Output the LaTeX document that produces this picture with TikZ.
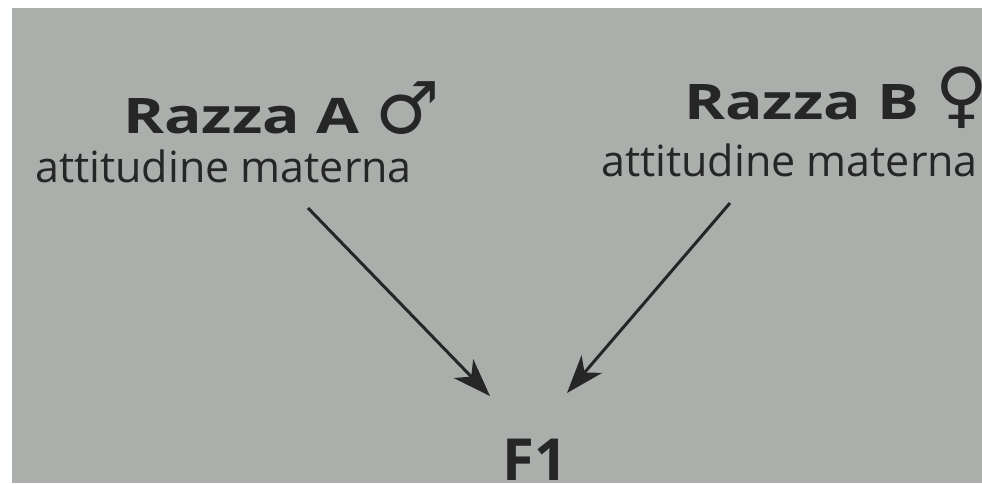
\documentclass[tikz,border=0pt]{standalone}
\usepackage{fontspec}
\setmainfont{Open Sans}
\newfontfamily\breedfont[FakeStretch=1.27]{Open Sans}
\newfontfamily\symfont{DejaVu Sans}
\newcommand\sexsym[1]{{\symfont\bfseries\fontsize{72}{72}\selectfont #1}}
\definecolor{paper}{RGB}{170,175,172}
\definecolor{ink}{RGB}{38,38,38}
\usetikzlibrary{
  arrows.meta
}

\begin{document}
\begin{tikzpicture}[x=1pt, y=-1pt,
  breed/.style={
    anchor=base west, inner sep=0pt, text=ink,
    font=\breedfont\fontsize{49}{49}\selectfont\bfseries
  },
  trait/.style={
    anchor=base west, inner sep=0pt, text=ink,
    font=\fontsize{43}{43}\selectfont
  },
  arr/.style={-{Stealth[length=38pt, width=27pt, inset=11pt]}, line width=3pt, ink},
]

\clip (0,0) rectangle (982,483);
\fill[white] (0,0) rectangle (982,483);
\fill[paper] (12,8) rectangle (982,483);

\node[breed] (razzaA) at (123,133) {Razza A \sexsym{♂}};
\node[trait] (attA)   at (35,182)  {attitudine materna};
\node[breed] (razzaB) at (684,119) {Razza B \sexsym{♀}};
\node[trait] (attB)   at (601,176) {attitudine materna};
\node[trait, font=\fontsize{58}{58}\selectfont\bfseries] (f1) at (502,480) {F1};

\coordinate (fromA) at (308,208);
\coordinate (toA)   at (490,396);
\coordinate (fromB) at (730,203);
\coordinate (toB)   at (567,393);

\draw[arr] (fromA) -- (toA);
\draw[arr] (fromB) -- (toB);

\end{tikzpicture}
\end{document}
